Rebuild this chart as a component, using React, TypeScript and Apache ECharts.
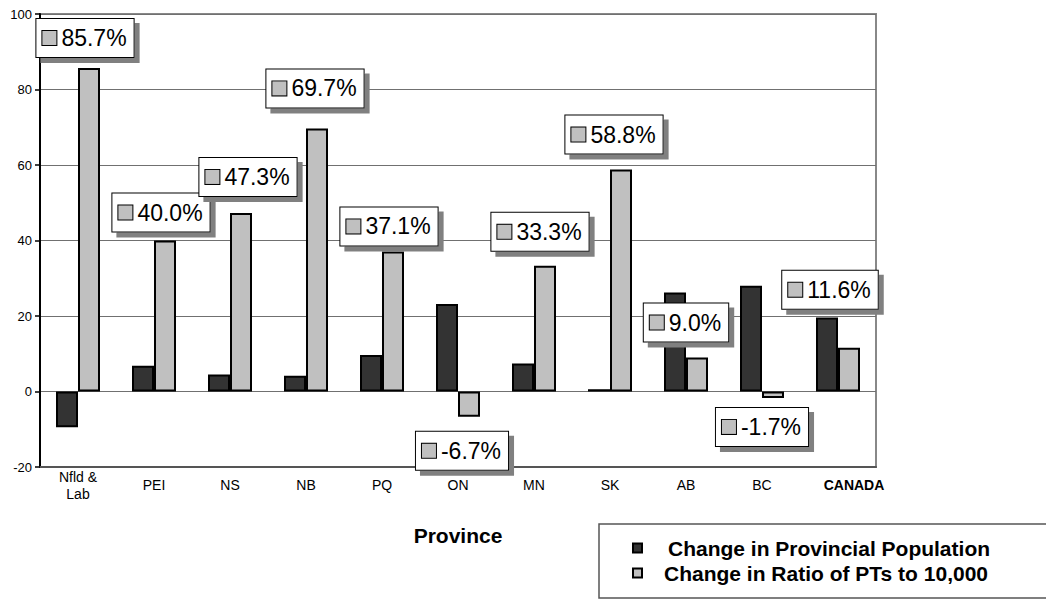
import React, { useEffect, useRef } from "react";
import * as echarts from "echarts";

const categories = ["Nfld &\nLab", "PEI", "NS", "NB", "PQ", "ON", "MN", "SK", "AB", "BC", "CANADA"];
const populationChange = [-9.5, 6.8, 4.5, 4.2, 9.7, 23.2, 7.4, 0.6, 26.2, 28.0, 19.6];
const ptRatioChange = [85.7, 40.0, 47.3, 69.7, 37.1, -6.7, 33.3, 58.8, 9.0, -1.7, 11.6];
const seriesNames = ["Change in Provincial Population", "Change in Ratio of PTs to 10,000"];
const yTicks = { min: -20, max: 100, interval: 20 };

// label box placement (layout only)
const labelOffsets: number[][] = [
  [-4, -6], [-4, -4], [7, -12], [-2, -16], [-4, -1], [-7, 10],
  [-5, -10], [-7, -11], [-11, -11], [-11, 5], [-19, -34],
];

const FONT = "'Liberation Sans', Arial, sans-serif";

export default function App() {
  const ref = useRef<HTMLDivElement>(null);
  useEffect(() => {
    if (!ref.current) return;
    const chart = echarts.init(ref.current, undefined, { renderer: "svg" });
    chart.setOption({
      animation: false,
      textStyle: { fontFamily: FONT },
      grid: {
        left: 40,
        right: 170,
        top: 14,
        bottom: 132,
        show: true,
        borderColor: "#888",
        borderWidth: 2,
      },
      legend: {
        orient: "vertical",
        left: 599,
        top: 524,
        padding: [13, 57, 14, 33],
        borderColor: "#555",
        borderWidth: 1.5,
        backgroundColor: "#fff",
        itemWidth: 9,
        itemHeight: 9,
        itemGap: 3,
        icon: "rect",
        textStyle: { fontSize: 21, fontWeight: "bold", color: "#000", lineHeight: 22, fontFamily: FONT },
        data: [
          { name: seriesNames[0], textStyle: { padding: [0, 0, 0, 21] } },
          { name: seriesNames[1], textStyle: { padding: [0, 0, 0, 17] } },
        ],
      },
      xAxis: {
        type: "category",
        data: categories,
        name: "Province",
        nameLocation: "middle",
        nameGap: 58,
        nameTextStyle: { fontSize: 21, fontWeight: "bold", color: "#000", fontFamily: FONT },
        axisLine: { onZero: false, lineStyle: { color: "#555", width: 2 } },
        axisTick: { show: false },
        axisLabel: {
          fontSize: 14,
          color: "#000",
          margin: 18,
          verticalAlign: "middle",
          lineHeight: 17,
          interval: 0,
          fontFamily: FONT,
          formatter: (v: string) => (v === "CANADA" ? "{b|" + v + "}" : v),
          rich: {
            b: { fontSize: 14, fontWeight: "bold", color: "#000", padding: [0, 0, 0, 32], fontFamily: FONT },
          },
        },
      },
      yAxis: {
        type: "value",
        min: yTicks.min,
        max: yTicks.max,
        interval: yTicks.interval,
        axisLine: { show: true, lineStyle: { color: "#000", width: 2 } },
        axisTick: { show: true, inside: false, length: 5, lineStyle: { color: "#000", width: 1.5 } },
        axisLabel: { fontSize: 13, color: "#000", margin: 8, fontFamily: FONT },
        splitLine: { lineStyle: { color: "#707070", width: 1.2 } },
      },
      series: [
        {
          name: seriesNames[0],
          type: "bar",
          data: populationChange,
          barWidth: 22,
          barGap: "0%",
          itemStyle: { color: "#333333", borderColor: "#000", borderWidth: 2 },
        },
        {
          name: seriesNames[1],
          type: "bar",
          barWidth: 22,
          barGap: "0%",
          itemStyle: { color: "#c0c0c0", borderColor: "#000", borderWidth: 2 },
          data: ptRatioChange.map((v, i) => ({
            value: v,
            label: {
              position: v < 0 ? "bottom" : "top",
              offset: labelOffsets[i],
            },
          })),
          label: {
            show: true,
            distance: 5,
            formatter: (p: any) => "{sq|}{t|" + Number(p.value).toFixed(1) + "%}",
            backgroundColor: "#fff",
            borderColor: "#000",
            borderWidth: 1,
            padding: [7, 7, 7, 6],
            shadowColor: "#808080",
            shadowBlur: 0,
            shadowOffsetX: 5,
            shadowOffsetY: 5,
            rich: {
              sq: {
                width: 14,
                height: 14,
                backgroundColor: "#c0c0c0",
                borderColor: "#000",
                borderWidth: 1,
              },
              t: { fontSize: 23, color: "#000", padding: [0, 0, 0, 5], fontFamily: FONT, lineHeight: 24 },
            },
          },
        },
      ],
    });
    return () => chart.dispose();
  }, []);
  return <div ref={ref} style={{ position: "absolute", left: 0, top: 0, width: 1046, height: 599 }} />;
}
